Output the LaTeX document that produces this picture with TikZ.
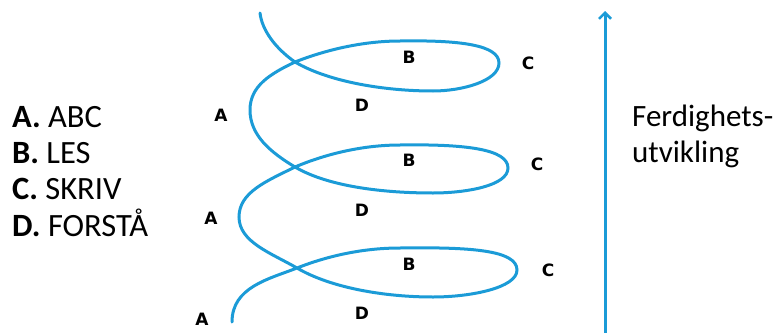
\documentclass[tikz,border=0pt]{standalone}
\usepackage{fontspec}
\setmainfont{Carlito}
\newfontfamily\lblfont{DejaVu Sans}
\usetikzlibrary{arrows.meta}
\definecolor{spiralblue}{HTML}{1B9BD7}
\tikzset{
  listtext/.style={anchor=base west, inner sep=0pt, font=\fontsize{32.5}{36}\selectfont},
  sidetext/.style={anchor=base west, inner sep=0pt, font=\fontsize{31}{36}\selectfont, align=left},
  lbl/.style={inner sep=0pt, font=\lblfont\bfseries\fontsize{17}{20}\selectfont},
  spiral/.style={draw=spiralblue, line width=3pt, line cap=round},
}
\begin{document}
\begin{tikzpicture}[x=1pt,y=-1pt]
\useasboundingbox (0,0) rectangle (776,332);
% legend
\node[listtext] (la) at (12,127) {\textbf{A.} ABC};
\node[listtext] (lb) at (12,163) {\textbf{B.} LES};
\node[listtext] (lc) at (12,199) {\textbf{C.} SKRIV};
\node[listtext] (ld) at (12,236) {\textbf{D.} FORSTÅ};
% spiral
\draw[spiral] (232,322)
  .. controls (232,287) and (269,279) .. (297,268)
  .. controls (330,255) and (365,248) .. (400,248)
  .. controls (470,247) and (517,250) .. (517,270)
  .. controls (517,288) and (470,297) .. (433,297)
  .. controls (385,297) and (331,288) .. (297,268)
  .. controls (271,253) and (239,242) .. (239,217)
  .. controls (239,192) and (267,181) .. (295,167)
  .. controls (328,153) and (365,145) .. (400,145)
  .. controls (465,144) and (508,149) .. (508,168)
  .. controls (508,186) and (465,193) .. (433,193)
  .. controls (385,193) and (329,187) .. (295,167)
  .. controls (270,152) and (250,135) .. (250,110)
  .. controls (250,86) and (270,74) .. (295,62)
  .. controls (328,49) and (365,41) .. (400,41)
  .. controls (460,40) and (499,45) .. (499,63)
  .. controls (499,81) and (462,91) .. (433,91)
  .. controls (385,91) and (329,82) .. (295,62)
  .. controls (275,48) and (262,30) .. (260,13);
% spiral labels
\node[lbl] (a1) at (221,115) {A};
\node[lbl] (a2) at (211,218) {A};
\node[lbl] (a3) at (202,319) {A};
\node[lbl] (b1) at (409,57) {B};
\node[lbl] (b2) at (409,160) {B};
\node[lbl] (b3) at (409,264) {B};
\node[lbl] (c1) at (528,63) {C};
\node[lbl] (c2) at (537,164) {C};
\node[lbl] (c3) at (548,270) {C};
\node[lbl] (d1) at (362,105) {D};
\node[lbl] (d2) at (362,210) {D};
\node[lbl] (d3) at (362,313) {D};
% arrow
\coordinate (abot) at (605,334);
\coordinate (atop) at (605,11);
\draw[draw=spiralblue, line width=3pt, -{Straight Barb[length=6pt,width=12pt,line width=2.5pt]}] (abot) -- (atop);
\node[sidetext] (ferd) at (632,162) {Ferdighets-\\utvikling};
\end{tikzpicture}
\end{document}
